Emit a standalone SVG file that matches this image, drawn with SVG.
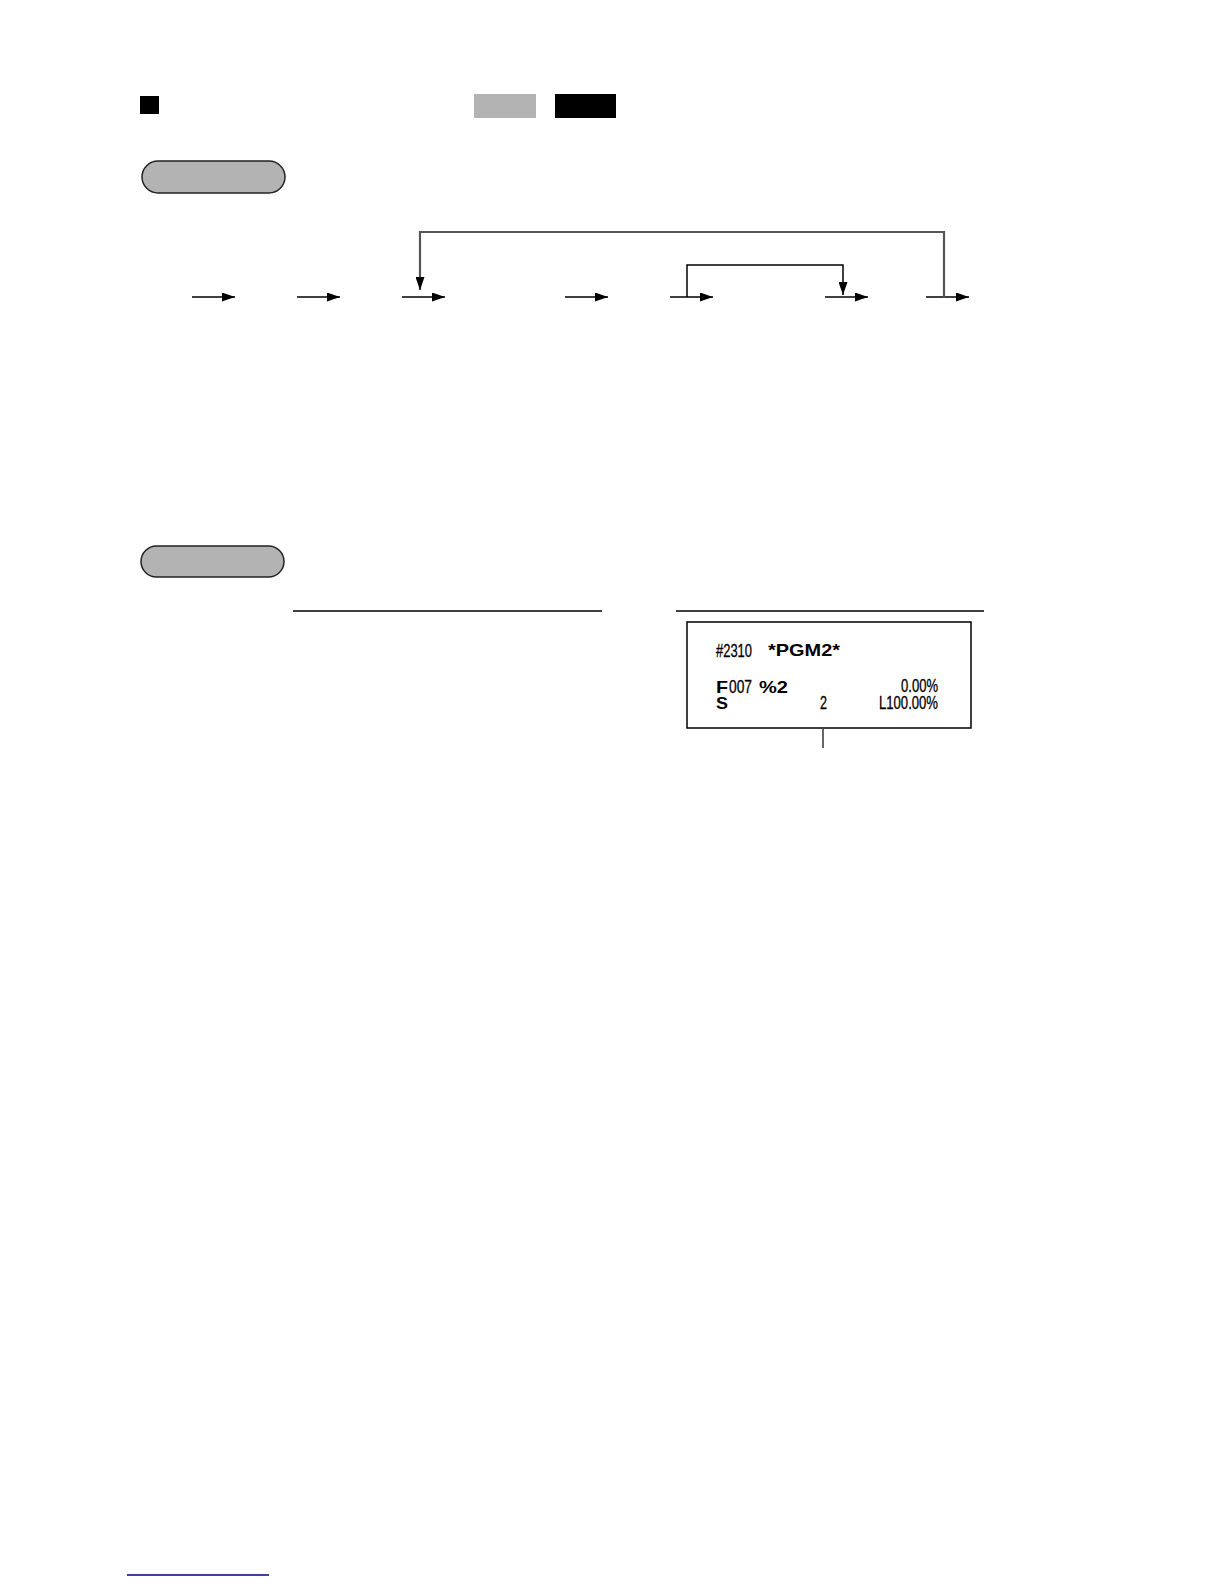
<svg xmlns="http://www.w3.org/2000/svg" width="1224" height="1584" viewBox="0 0 1224 1584">
<style>
.pill{fill:#b3b3b3;stroke:#222;stroke-width:1.5}
.arr{stroke:#000;stroke-width:1.5;fill:none;marker-end:url(#ah)}
.loop{stroke:#555;stroke-width:2.2;fill:none}
.inner{stroke:#000;stroke-width:1.5;fill:none}
.rule{stroke:#000;stroke-width:1.5}
.rc{font-family:"Liberation Sans",Arial,sans-serif;font-size:17.5px;fill:#000;stroke:#000;stroke-width:0.3}
.rb{font-family:"Liberation Sans",Arial,sans-serif;font-size:17px;font-weight:bold;fill:#000}
</style>
<defs>
<marker id="ah" markerUnits="userSpaceOnUse" markerWidth="14" markerHeight="9" refX="13" refY="4.5" orient="auto">
<path d="M0,0 L13,4.5 L0,9 z" fill="#000"/>
</marker>
<marker id="ahd" markerUnits="userSpaceOnUse" markerWidth="14" markerHeight="9" refX="13" refY="4.5" orient="auto">
<path d="M0,0 L13,4.5 L0,9 z" fill="#000"/>
</marker>
</defs>
<rect width="1224" height="1584" fill="#fff"/>
<g id="header">
<rect x="140" y="96" width="19" height="18" fill="#000"/>
<rect x="474" y="94" width="62" height="24" fill="#b3b3b3"/>
<rect x="555" y="94" width="61" height="24" fill="#000"/>
</g>
<g id="pill-procedure">
<rect class="pill" x="142" y="161" width="143" height="32" rx="16"/>
</g>
<g id="pill-print">
<rect class="pill" x="141" y="546" width="143" height="31" rx="15.5"/>
</g>
<g id="connectors">
<line class="arr" x1="192" y1="297" x2="235" y2="297"/>
<line class="arr" x1="297" y1="297" x2="340" y2="297"/>
<line class="arr" x1="402" y1="297" x2="445" y2="297"/>
<line class="arr" x1="565" y1="297" x2="608" y2="297"/>
<line class="arr" x1="670" y1="297" x2="713" y2="297"/>
<line class="arr" x1="825" y1="297" x2="868" y2="297"/>
<line class="arr" x1="926" y1="297" x2="969" y2="297"/>
<polyline class="loop" points="944,297 944,232 420,232 420,290" marker-end="url(#ahd)"/>
<polyline class="inner" points="687,297 687,265 843,265 843,295" marker-end="url(#ahd)"/>
</g>
<g id="rules">
<line class="rule" x1="293" y1="611" x2="602" y2="611"/>
<line class="rule" x1="676" y1="611" x2="984" y2="611"/>
</g>
<g id="receipt">
<rect x="687" y="622" width="284" height="106" fill="none" stroke="#000" stroke-width="1.5"/>
<text class="rc" x="716" y="657" textLength="36" lengthAdjust="spacingAndGlyphs">#2310</text>
<text class="rb" x="768" y="656" textLength="72" lengthAdjust="spacingAndGlyphs">*PGM2*</text>
<text class="rb" x="716" y="693" textLength="12" lengthAdjust="spacingAndGlyphs">F</text>
<text class="rc" x="729" y="693" textLength="23" lengthAdjust="spacingAndGlyphs">007</text>
<text class="rb" x="759" y="693" textLength="29" lengthAdjust="spacingAndGlyphs">%2</text>
<text class="rc" x="901" y="692" textLength="37" lengthAdjust="spacingAndGlyphs">0.00%</text>
<text class="rb" x="716" y="709" textLength="12" lengthAdjust="spacingAndGlyphs">S</text>
<text class="rc" x="820" y="709" textLength="7" lengthAdjust="spacingAndGlyphs">2</text>
<text class="rc" x="879" y="709" textLength="59" lengthAdjust="spacingAndGlyphs">L100.00%</text>
<line x1="823" y1="729" x2="823" y2="748" stroke="#000" stroke-width="1.2"/>
</g>
<g id="footer">
<line x1="127" y1="1575" x2="269" y2="1575" stroke="#000080" stroke-width="1.5"/>
</g>
</svg>
